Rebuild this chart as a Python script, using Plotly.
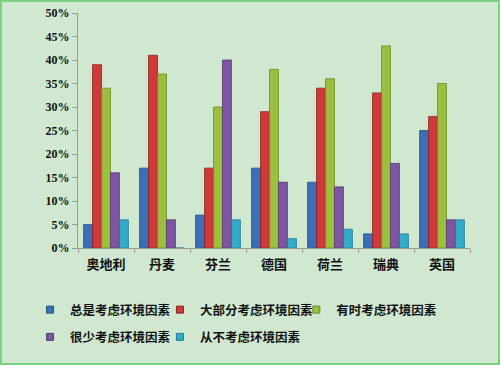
import plotly.graph_objects as go

countries = ["奥地利", "丹麦", "芬兰", "德国", "荷兰", "瑞典", "英国"]
series_names = ["总是考虑环境因素", "大部分考虑环境因素", "有时考虑环境因素", "很少考虑环境因素", "从不考虑环境因素"]
always = [5, 17, 7, 17, 14, 3, 25]
mostly = [39, 41, 17, 29, 34, 33, 28]
sometimes = [34, 37, 30, 38, 36, 43, 35]
rarely = [16, 6, 40, 14, 13, 18, 6]
never = [6, 0, 6, 2, 4, 3, 6]
y_ticks = [0, 5, 10, 15, 20, 25, 30, 35, 40, 45, 50]

colors = ["#3b6fb8", "#cc3a3a", "#9bbf3f", "#7e56a0", "#34abc9"]
lines = ["#24507f", "#8c2222", "#6a8a25", "#563a70", "#1f7d96"]
legend_slots = ["legend", "legend2", "legend3", "legend", "legend2"]

fig = go.Figure()
for name, vals, c, lc in zip(series_names, [always, mostly, sometimes, rarely, never], colors, lines):
    fig.add_trace(go.Bar(x=countries, y=vals, name=name, showlegend=False,
                         marker=dict(color=c, line=dict(color=lc, width=0.8))))
# legend entries with small square keys, laid out in three columns
for name, c, lc, lg in zip(series_names, colors, lines, legend_slots):
    fig.add_trace(go.Scatter(x=[None], y=[None], mode="markers", name=name, legend=lg,
                             legendgroup=name,
                             marker=dict(symbol="square", size=7, color=c,
                                         line=dict(color=lc, width=1))))

W_plot = 392
H_plot = 235
leg_common = dict(orientation="v", xanchor="left", y=-0.2, yanchor="top",
                  font=dict(size=12.5, family="Noto Sans CJK SC", weight="bold", color="#111"),
                  itemwidth=30, tracegroupgap=8, bgcolor="rgba(0,0,0,0)")
fig.update_layout(
    width=500, height=365,
    margin=dict(l=78, r=30, t=13, b=117, autoexpand=False),
    paper_bgcolor="#cfe8cf", plot_bgcolor="#cfe8cf",
    barmode="group", bargap=0.2, bargroupgap=0,
    font=dict(family="Noto Sans CJK SC", size=11, color="#111"),
    showlegend=True,
    legend=dict(x=-0.1224, **leg_common),
    legend2=dict(x=0.209, **leg_common),
    legend3=dict(x=0.557, **leg_common),
    xaxis=dict(showline=True, linecolor="#9a9a9a", linewidth=1, ticks="outside",
               tickson="boundaries", tickcolor="#9a9a9a", ticklen=4, ticklabelstandoff=4,
               tickfont=dict(size=13, family="Noto Sans CJK SC", weight="bold"),
               showgrid=False),
    yaxis=dict(range=[0, 50], tickvals=y_ticks, ticktext=[f"{v}%" for v in y_ticks],
               showline=True, linecolor="#9a9a9a", linewidth=1, ticks="outside",
               tickcolor="#9a9a9a", ticklen=5, showgrid=False, zeroline=False,
               tickfont=dict(size=12, family="Liberation Serif", weight="bold")),
    shapes=[dict(type="rect", xref="paper", yref="paper",
                 x0=-77/W_plot, x1=(499-78)/W_plot, y0=(248-364)/H_plot, y1=(248-1)/H_plot,
                 line=dict(color="#7ccf7c", width=2), fillcolor="rgba(0,0,0,0)", layer="above")],
)

fig.write_html("out.html", config={"displayModeBar": False},
               post_script="document.body.style.margin='0';")
